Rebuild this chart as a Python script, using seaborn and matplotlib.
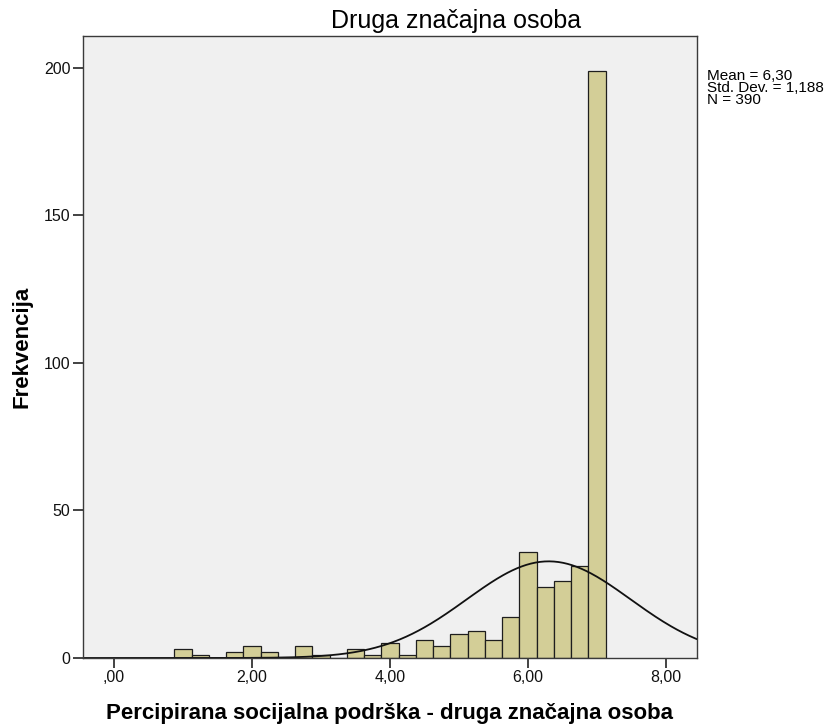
import numpy as np
import pandas as pd
import matplotlib
matplotlib.use("Agg")
import matplotlib.pyplot as plt
import seaborn as sns

# ---- data ----
bin_centers = [1.00, 1.25, 1.50, 1.75, 2.00, 2.25, 2.50, 2.75, 3.00, 3.25,
               3.50, 3.75, 4.00, 4.25, 4.50, 4.75, 5.00, 5.25, 5.50, 5.75,
               6.00, 6.25, 6.50, 6.75, 7.00]
counts = [3, 1, 0, 2, 4, 2, 0, 4, 1, 0,
          3, 1, 5, 1, 6, 4, 8, 9, 6, 14,
          36, 24, 26, 31, 199]
bin_width = 0.25
mean_val = 6.30
std_val = 1.188
n_val = 390

x_ticks = [0, 2, 4, 6, 8]
x_tick_labels = [",00", "2,00", "4,00", "6,00", "8,00"]
y_ticks = [0, 50, 100, 150, 200]
y_tick_labels = ["0", "50", "100", "150", "200"]

title = "Druga značajna osoba"
x_label = "Percipirana socijalna podrška - druga značajna osoba"
y_label = "Frekvencija"
stats_lines = ["Mean = 6,30", "Std. Dev. = 1,188", "N = 390"]

sns.set_theme(style="white")
plt.rcParams["font.family"] = ["Liberation Sans", "DejaVu Sans"]

fig = plt.figure(figsize=(8.35, 7.28), dpi=100)
W, H = 835, 728
left, right, top, bottom = 83, 697, 36, 658
ax = fig.add_axes([left / W, 1 - bottom / H, (right - left) / W, (bottom - top) / H])

df = pd.DataFrame({"value": bin_centers, "count": counts})
lo = bin_centers[0] - bin_width / 2
hi = bin_centers[-1] + bin_width / 2
sns.histplot(data=df, x="value", weights="count", binwidth=bin_width, binrange=(lo, hi),
             ax=ax, color="#D3CE97", edgecolor="#1e1e1e", linewidth=0.9, alpha=1.0)

xmin, xmax = -0.45, 8.45
xs = np.linspace(xmin, xmax, 400)
ys = n_val * bin_width * np.exp(-0.5 * ((xs - mean_val) / std_val) ** 2) / (std_val * np.sqrt(2 * np.pi))
sns.lineplot(x=xs, y=ys, ax=ax, color="#111111", linewidth=1.3)

ax.set_xlim(xmin, xmax)
ax.set_ylim(0, 210.7)
ax.set_facecolor("#F0F0F0")
for s in ax.spines.values():
    s.set_color("#3a3a3a")
    s.set_linewidth(1.0)

ax.set_xticks(x_ticks)
ax.set_xticklabels(x_tick_labels)
ax.set_yticks(y_ticks)
ax.set_yticklabels(y_tick_labels)
ax.tick_params(axis="both", direction="out", length=7, width=1.2, color="#222222",
               labelsize=11.5, labelcolor="#111111", pad=2, bottom=True, left=True)

fig.text(331 / W, 1 - 28 / H, title, fontsize=18, color="#000000",
         ha="left", va="baseline")
ax.set_xlabel(x_label, fontsize=16, fontweight="bold", color="#000000")
ax.xaxis.set_label_coords(0.5, -(703 - bottom) / (bottom - top))
ax.set_ylabel(y_label, fontsize=16, fontweight="bold", color="#000000")
ax.yaxis.set_label_coords(-(left - 32) / (right - left), 0.5)

fig.text(707 / W, 1 - 69 / H, "\n".join(stats_lines), fontsize=11, va="top",
         ha="left", color="#000000", linespacing=0.82)

fig.savefig("out.png", dpi=100, facecolor="white")
